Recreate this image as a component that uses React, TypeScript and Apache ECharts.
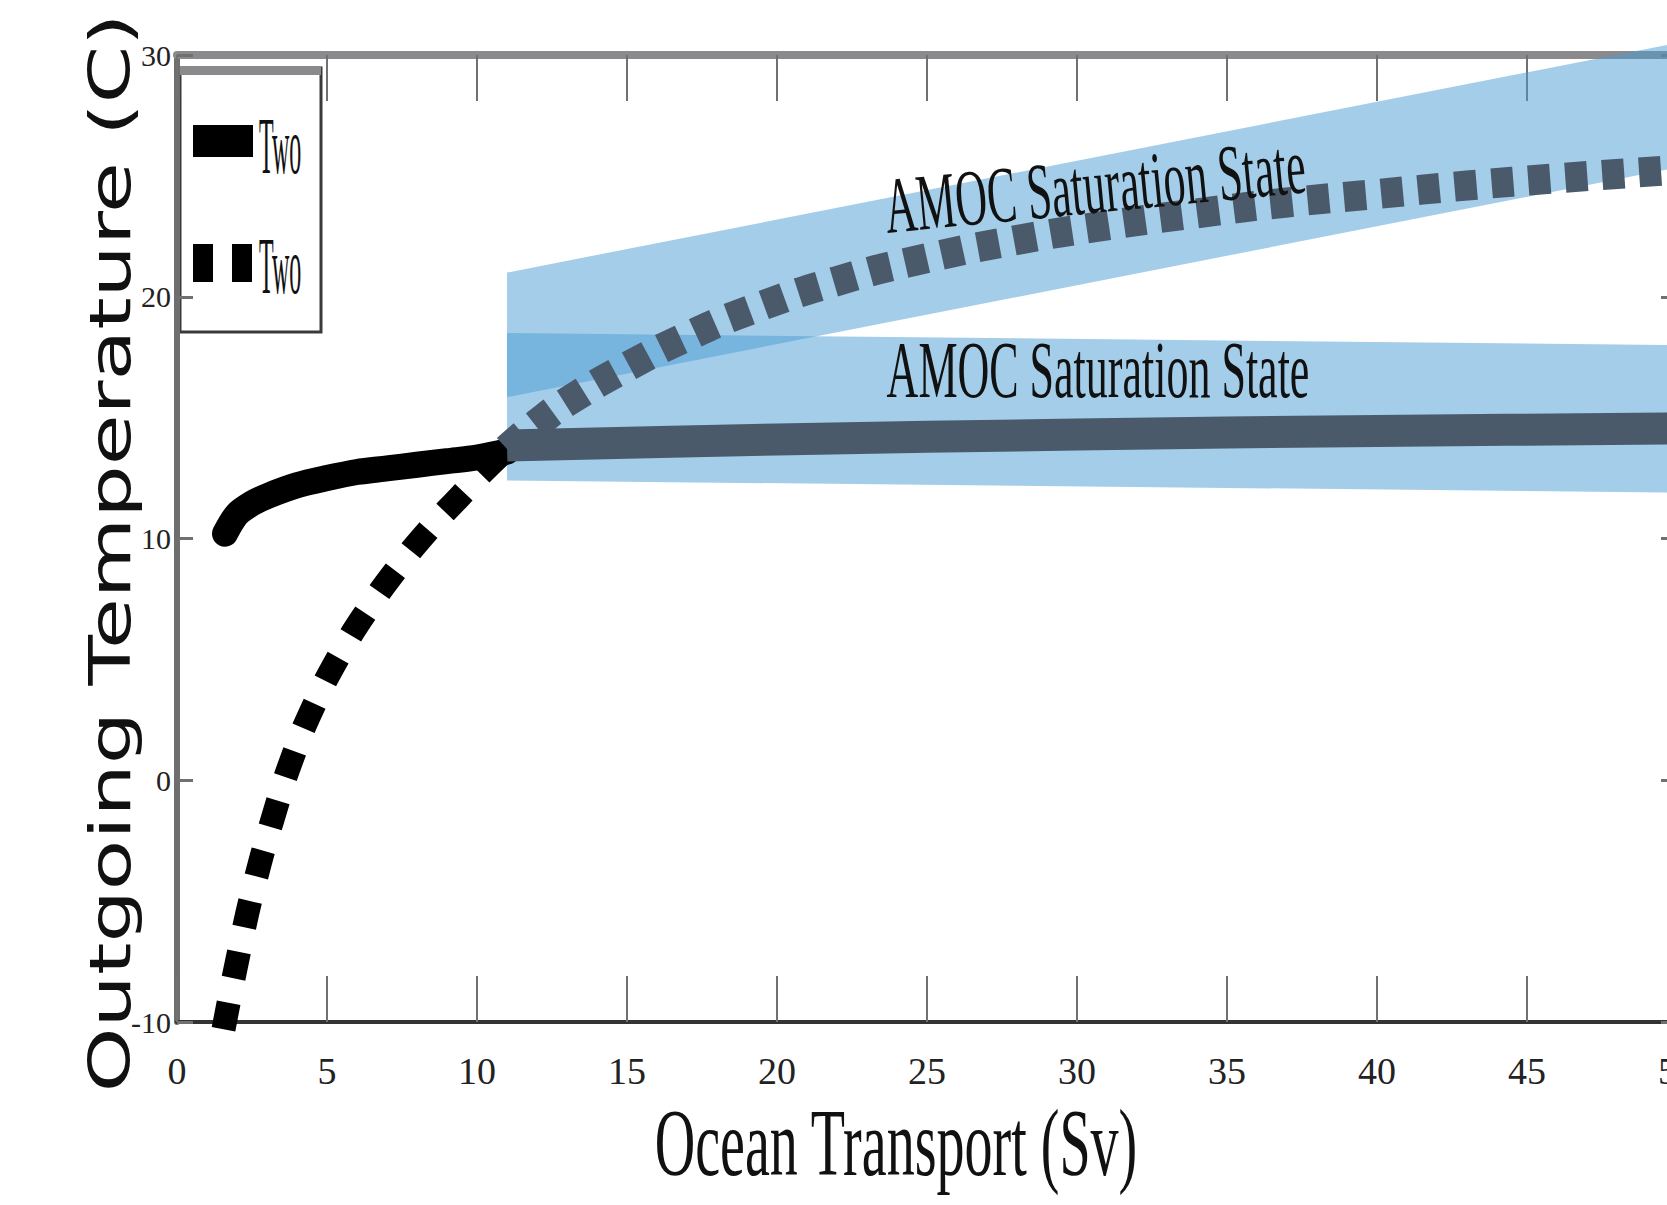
import React, { useEffect, useRef } from 'react';
import * as echarts from 'echarts';

// ---- data ----
const xTickValues = [0, 5, 10, 15, 20, 25, 30, 35, 40, 45, 50];
const yTickValues = [-10, 0, 10, 20, 30];

// solid "Two" curve (black part, before the saturation region)
const solidCurveX = [1.6, 2, 2.5, 3, 4, 5, 6, 7, 8, 9, 10, 11];
const solidCurveY = [10.2, 11.0, 11.45, 11.75, 12.2, 12.5, 12.75, 12.9, 13.05, 13.2, 13.35, 13.6];
// solid "Two" inside saturation band
const solidSatX = [11, 20, 30, 40, 50];
const solidSatY = [13.85, 14.1, 14.3, 14.45, 14.55];

// dotted "Two" curve (black part)
const dottedCurveX = [1.55, 2.1, 2.6, 3.2, 3.85, 4.6, 5.45, 6.35, 7.3, 8.35, 9.4, 10.4, 11];
const dottedCurveY = [-10.3, -6.9, -4.2, -1.55, 0.95, 3.2, 5.25, 7.05, 8.7, 10.3, 11.7, 13.0, 13.7];
// dotted "Two" inside saturation band
const dottedSatX = [11, 12, 13, 15, 17, 19, 22, 25, 28, 31, 34, 37, 40, 43, 46, 50];
const dottedSatY = [13.7, 14.75, 15.65, 17.1, 18.35, 19.4, 20.65, 21.6, 22.35, 22.95, 23.45, 23.9, 24.25, 24.6, 24.9, 25.25];

// saturation bands: [xStart, topStart, bottomStart, xEnd, topEnd, bottomEnd]
const upperBand = [11, 21.0, 15.85, 50, 30.5, 25.35];
const lowerBand = [11, 18.5, 12.4, 50, 18.0, 11.9];

// annotations
const annotationTexts = ['AMOC Saturation State', 'AMOC Saturation State'];
const annotationAnchors = [[30.6, 24.58], [30.7, 16.97]];
const annotationAnglesDeg = [5.5, 0];

const legendLabels = ['Two', 'Two'];
const xTitle = 'Ocean Transport (Sv)';
const yTitle = 'Outgoing Temperature (C)';

const pair = (xs: number[], ys: number[]) => xs.map((x, i) => [x, ys[i]]);

const BAND_FILL = 'rgba(74,155,212,0.5)';
const SLATE = '#4a5a6a';
const SERIF = "'Liberation Serif', 'Times New Roman', serif";

function bandSeries(band: number[]) {
  return {
    type: 'custom',
    clip: false,
    silent: true,
    z: 2,
    data: [band],
    renderItem: (_params: any, api: any) => {
      const p1 = api.coord([api.value(0), api.value(1)]);
      const p2 = api.coord([api.value(3), api.value(4)]);
      const p3 = api.coord([api.value(3), api.value(5)]);
      const p4 = api.coord([api.value(0), api.value(2)]);
      return {
        type: 'polygon',
        shape: { points: [p1, p2, p3, p4] },
        style: { fill: BAND_FILL },
      };
    },
  };
}

export default function App() {
  const ref = useRef<HTMLDivElement>(null);

  useEffect(() => {
    const chart = echarts.init(ref.current!, null, { renderer: 'svg' });
    const option: any = {
      animation: false,
      backgroundColor: '#ffffff',
      grid: {
        left: 177,
        top: 55,
        width: 1500,
        height: 967,
        containLabel: false,
        outerBoundsMode: 'none',
      },
      xAxis: [
        {
          type: 'value',
          position: 'bottom',
          min: xTickValues[0],
          max: xTickValues[xTickValues.length - 1],
          interval: 5,
          axisLine: { show: true, onZero: false, lineStyle: { color: '#333333', width: 4 } },
          axisTick: { show: true, inside: true, length: 46, lineStyle: { color: '#707070', width: 2 } },
          axisLabel: { show: true, margin: 30, fontFamily: SERIF, fontSize: 38, color: '#222' },
          splitLine: { show: false },
        },
        {
          type: 'value',
          position: 'top',
          min: xTickValues[0],
          max: xTickValues[xTickValues.length - 1],
          interval: 5,
          axisLine: { show: true, onZero: false, lineStyle: { color: '#8a8a8d', width: 8 } },
          axisTick: { show: true, inside: true, length: 46, lineStyle: { color: '#707070', width: 2 } },
          axisLabel: { show: false },
          splitLine: { show: false },
        },
      ],
      yAxis: [
        {
          type: 'value',
          position: 'left',
          min: yTickValues[0],
          max: yTickValues[yTickValues.length - 1],
          interval: 10,
          axisLine: { show: true, onZero: false, lineStyle: { color: '#6e6e6e', width: 6 } },
          axisTick: { show: true, inside: true, length: 16, lineStyle: { color: '#707070', width: 3 } },
          axisLabel: { show: true, margin: 6, fontFamily: SERIF, fontSize: 30, color: '#222' },
          splitLine: { show: false },
        },
        {
          type: 'value',
          position: 'right',
          min: yTickValues[0],
          max: yTickValues[yTickValues.length - 1],
          interval: 10,
          axisLine: { show: true, onZero: false, lineStyle: { color: '#6e6e6e', width: 4 } },
          axisTick: { show: true, inside: true, length: 16, lineStyle: { color: '#707070', width: 3 } },
          axisLabel: { show: false },
          splitLine: { show: false },
        },
      ],
      series: [
        bandSeries(upperBand),
        bandSeries(lowerBand),
        {
          type: 'line',
          name: 'Two (solid)',
          data: pair(solidCurveX, solidCurveY),
          symbol: 'none',
          smooth: 0.3,
          silent: true,
          z: 3,
          lineStyle: { color: '#000000', width: 26, cap: 'round' },
        },
        {
          type: 'line',
          name: 'Two (solid, saturated)',
          data: pair(solidSatX, solidSatY),
          symbol: 'none',
          smooth: 0.3,
          silent: true,
          z: 3,
          lineStyle: { color: SLATE, width: 32, cap: 'butt' },
        },
        {
          type: 'line',
          name: 'Two (dotted)',
          data: pair(dottedCurveX, dottedCurveY),
          symbol: 'none',
          smooth: 0.5,
          silent: true,
          z: 4,
          lineStyle: { color: '#000000', width: 24, type: [27, 25], cap: 'butt', join: 'round' },
        },
        {
          type: 'line',
          name: 'Two (dotted, saturated)',
          data: pair(dottedSatX, dottedSatY),
          symbol: 'none',
          smooth: 0.5,
          silent: true,
          z: 4,
          lineStyle: { color: SLATE, width: 30, type: [22, 15], cap: 'butt', join: 'round' },
        },
        {
          type: 'custom',
          clip: false,
          silent: true,
          z: 5,
          data: annotationAnchors,
          renderItem: (params: any, api: any) => {
            const p = api.coord([api.value(0), api.value(1)]);
            const i = params.dataIndex;
            return {
              type: 'text',
              x: p[0],
              y: p[1],
              rotation: (annotationAnglesDeg[i] * Math.PI) / 180,
              scaleX: 0.55,
              style: {
                text: annotationTexts[i],
                fontFamily: SERIF,
                fontSize: 80,
                fill: '#111111',
                align: 'center',
                verticalAlign: 'middle',
              },
            };
          },
        },
      ],
      graphic: [
        {
          type: 'group',
          z: 100,
          children: [
            { type: 'rect', shape: { x: 180, y: 68, width: 141, height: 264 }, style: { fill: '#ffffff', stroke: '#3a3a3a', lineWidth: 3 } },
            { type: 'rect', shape: { x: 180, y: 66, width: 141, height: 9 }, style: { fill: '#8a8a8d' } },
            { type: 'rect', shape: { x: 193, y: 125, width: 60, height: 32 }, style: { fill: '#000000' } },
            { type: 'rect', shape: { x: 193, y: 244, width: 20, height: 38 }, style: { fill: '#000000' } },
            { type: 'rect', shape: { x: 232, y: 244, width: 20, height: 38 }, style: { fill: '#000000' } },
            {
              type: 'text', x: 259, y: 146, scaleX: 0.3,
              style: { text: legendLabels[0], fontFamily: SERIF, fontSize: 80, fill: '#111', align: 'left', verticalAlign: 'middle' },
            },
            {
              type: 'text', x: 259, y: 266, scaleX: 0.3,
              style: { text: legendLabels[1], fontFamily: SERIF, fontSize: 80, fill: '#111', align: 'left', verticalAlign: 'middle' },
            },
          ],
        },
        {
          type: 'text', x: 896, y: 1143, scaleX: 0.59, z: 100,
          style: { text: xTitle, fontFamily: SERIF, fontSize: 95, fill: '#111', align: 'center', verticalAlign: 'middle' },
        },
        {
          type: 'text', x: 110, y: 553, rotation: Math.PI / 2, scaleX: 1.45, z: 100,
          style: { text: yTitle, fontFamily: "'DejaVu Sans', sans-serif", fontSize: 57, fill: '#111', align: 'center', verticalAlign: 'middle' },
        },
      ],
    };
    chart.setOption(option);
    return () => chart.dispose();
  }, []);

  return (
    <div
      ref={ref}
      style={{ position: 'absolute', left: 0, top: 0, width: 1667, height: 1205, background: '#ffffff', overflow: 'hidden' }}
    />
  );
}
